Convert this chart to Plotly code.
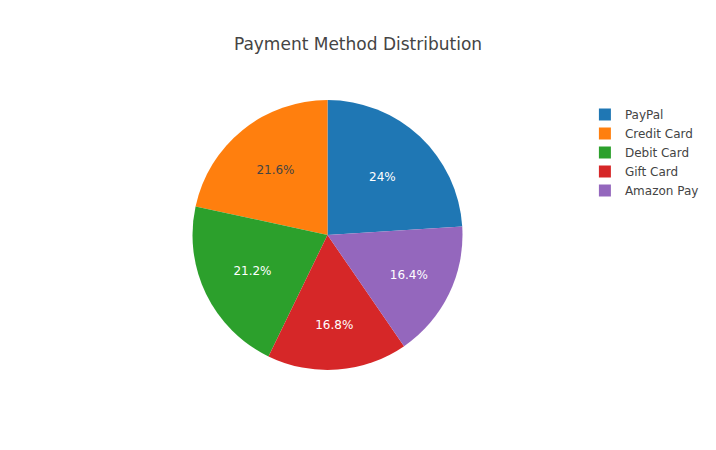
import plotly.graph_objects as go

methods = ["PayPal", "Credit Card", "Debit Card", "Gift Card", "Amazon Pay"]
counts = [120, 108, 106, 84, 82]
colors = ["#1f77b4", "#ff7f0e", "#2ca02c", "#d62728", "#9467bd"]

fig = go.Figure(go.Pie(labels=methods, values=counts, sort=False,
                       marker=dict(colors=colors)))
fig.update_layout(
    template="none",
    font=dict(family="Verdana, DejaVu Sans, sans-serif"),
    title=dict(text="Payment Method Distribution", x=0.5),
    width=716, height=450,
)
fig.write_html("out.html", config={"displayModeBar": False},
               post_script="document.body.style.margin='0';")
